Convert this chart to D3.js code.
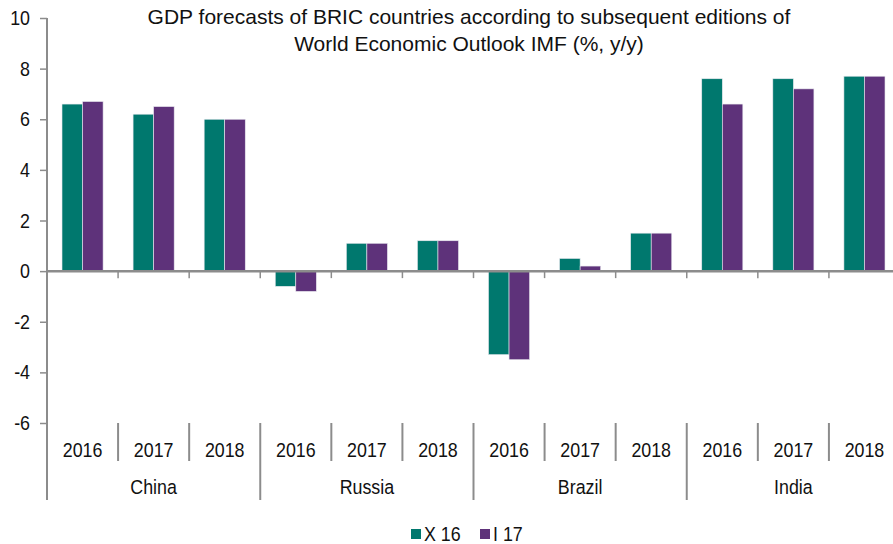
<!DOCTYPE html>
<html>
<head>
<meta charset="utf-8">
<script src="https://cdn.jsdelivr.net/npm/d3@7/dist/d3.min.js"></script>
<style>
  html, body { margin: 0; padding: 0; background: #fff; }
  svg { display: block; }
  text { font-family: "Liberation Sans", Arial, sans-serif; fill: #111; }
</style>
</head>
<body>
<svg id="chart" width="893" height="544"></svg>
<script>
// GDP forecasts (%, y/y) by country and year, from two WEO editions
const countries = ["China", "Russia", "Brazil", "India"];
const years = ["2016", "2017", "2018"];
const seriesNames = ["X 16", "I 17"];
const x16 = [6.6, 6.2, 6.0, -0.6, 1.1, 1.2, -3.3, 0.5, 1.5, 7.6, 7.6, 7.7];
const i17 = [6.7, 6.5, 6.0, -0.8, 1.1, 1.2, -3.5, 0.2, 1.5, 6.6, 7.2, 7.7];
const yTicks = [-6, -4, -2, 0, 2, 4, 6, 8, 10];
const titleLines = [
  "GDP forecasts of BRIC countries according to subsequent editions of",
  "World Economic Outlook IMF (%, y/y)"
];
const colors = ["#00786e", "#5e327a"];

const svg = d3.select("#chart");
const axisColor = "#8c8c8c";
const squeeze = 0.87;   // narrow face for the labels
const labelSize = 20.5;

// Draws a horizontally condensed label at (x, y)
function label(g, x, y, txt, anchor) {
  return g.append("text")
    .attr("transform", `translate(${x},${y}) scale(${squeeze},1)`)
    .attr("text-anchor", anchor)
    .attr("font-size", labelSize)
    .text(txt);
}

// Category slots: one per country-year pair
const slots = [];
countries.forEach((c, ci) => years.forEach((y, yi) => {
  const i = ci * years.length + yi;
  slots.push({ key: i, country: c, year: y, values: [x16[i], i17[i]] });
}));

const x = d3.scaleBand().domain(slots.map(d => d.key)).range([47, 900]).paddingInner(0).paddingOuter(0);
const xs = d3.scaleBand().domain(seriesNames).range([0, x.bandwidth()]).paddingInner(0).paddingOuter(0.73);
const y = d3.scaleLinear().domain([-6, 10]).range([423, 18]);

// Title
svg.append("g").selectAll("text").data(titleLines).join("text")
  .attr("x", 469).attr("y", (d, i) => 24 + i * 27)
  .attr("text-anchor", "middle").attr("font-size", 21)
  .text(d => d);

// Bars
const groups = svg.append("g").selectAll("g").data(slots).join("g")
  .attr("transform", d => `translate(${x(d.key)},0)`);
groups.selectAll("rect")
  .data(d => d.values.map((v, i) => ({ name: seriesNames[i], v, i })))
  .join("rect")
  .attr("x", d => xs(d.name))
  .attr("width", xs.bandwidth())
  .attr("y", d => y(Math.max(0, d.v)))
  .attr("height", d => Math.abs(y(d.v) - y(0)))
  .attr("fill", d => colors[d.i])
  .attr("stroke", "#e8e8ee").attr("stroke-width", 0.6);

// Y axis: tick marks from the scale, labels condensed
const yAxis = d3.axisLeft(y).tickValues(yTicks).tickSize(7).tickFormat("");
const gy = svg.append("g").attr("transform", "translate(47,0)").call(yAxis);
gy.select(".domain").remove();
gy.selectAll(".tick line").attr("stroke", axisColor).attr("stroke-width", 1.5);
const gyl = svg.append("g");
yTicks.forEach(t => label(gyl, 30, y(t) + 7, String(t), "end"));
svg.append("line").attr("x1", 47).attr("x2", 47).attr("y1", 18).attr("y2", 500)
  .attr("stroke", axisColor).attr("stroke-width", 2);

// Zero baseline with ticks at slot boundaries
svg.append("line").attr("x1", 47).attr("x2", 900).attr("y1", y(0)).attr("y2", y(0))
  .attr("stroke", axisColor).attr("stroke-width", 2.5);
const bounds = d3.range(1, slots.length).map(i => x(i));
svg.append("g").selectAll("line").data(bounds).join("line")
  .attr("x1", d => d).attr("x2", d => d)
  .attr("y1", y(0)).attr("y2", y(0) + 7)
  .attr("stroke", axisColor).attr("stroke-width", 1.5);

// Category labels below the plot
const labelTop = y(-6);
svg.append("g").selectAll("line").data(bounds).join("line")
  .attr("x1", d => d).attr("x2", d => d)
  .attr("y1", labelTop)
  .attr("y2", (d, i) => ((i + 1) % years.length === 0 ? 500 : 461))
  .attr("stroke", axisColor).attr("stroke-width", 2);

const gYear = svg.append("g");
slots.forEach(d => label(gYear, x(d.key) + x.bandwidth() / 2, 457, d.year, "middle"));

const gCountry = svg.append("g");
countries.forEach((c, i) =>
  label(gCountry, x(i * years.length) + x.bandwidth() * years.length / 2, 494, c, "middle"));

// Legend
const legend = svg.append("g");
const legendX = [411, 480];
seriesNames.forEach((name, i) => {
  legend.append("rect").attr("x", legendX[i]).attr("y", 529).attr("width", 10).attr("height", 10)
    .attr("fill", colors[i]);
  label(legend, legendX[i] + 13, 541, name, "start");
});
</script>
</body>
</html>
